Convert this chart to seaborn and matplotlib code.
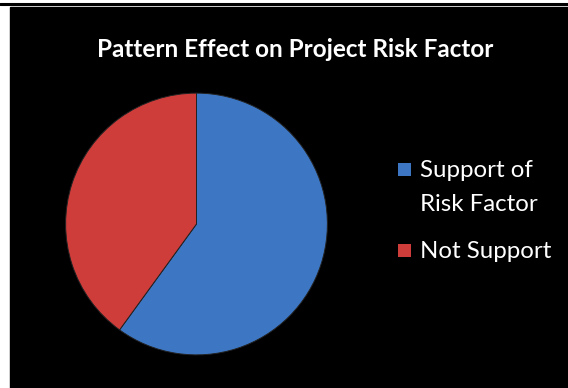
import matplotlib
matplotlib.use("Agg")
import matplotlib.pyplot as plt
from matplotlib.patches import Rectangle
from matplotlib.lines import Line2D
import seaborn as sns

# Chart data
categories = ["Support of\nRisk Factor", "Not Support"]
shares = [60, 40]
colors = ["#3d77c4", "#cf3d3b"]
title = "Pattern Effect on Project Risk Factor"

sns.set_style("dark")
plt.rcParams["font.family"] = ["Lato", "DejaVu Sans"]

W, H = 568, 388
fig = plt.figure(figsize=(W / 100, H / 100), dpi=100, facecolor="white")

def fx(px):
    return px / W

def fy(py):
    return 1 - py / H

# Thin rule along the top edge and the black chart panel
fig.add_artist(Line2D([0, 1], [fy(4), fy(4)], color="black", lw=2.2,
                      transform=fig.transFigure))
fig.add_artist(Rectangle((fx(10), 0), 1 - fx(10), fy(7), color="black",
                         transform=fig.transFigure, zorder=0))

# Pie
ax = fig.add_axes([fx(63), fy(358), fx(330) - fx(63), fy(90) - fy(358)])
ax.set_facecolor("none")
wedges, _ = ax.pie(shares, colors=colors, startangle=90, counterclock=False,
                   radius=1.0,
                   wedgeprops=dict(edgecolor="#222222", linewidth=0.7))
ax.set_xlim(-1.02, 1.02)
ax.set_ylim(-1.02, 1.02)
ax.set_aspect("equal")
ax.axis("off")

# Title
fig.text(fx(295), fy(57), title, ha="center", va="baseline", color="white",
         fontsize=17.5, fontweight="bold")

# Legend
label_x = 420
baselines = [177, 258]
for label, col, base in zip(categories, colors, baselines):
    lines = label.split("\n")
    fig.text(fx(label_x), fy(base), lines[0], ha="left", va="baseline",
             color="white", fontsize=17.3)
    if len(lines) > 1:
        fig.text(fx(label_x), fy(base + 34), lines[1], ha="left",
                 va="baseline", color="white", fontsize=17.3)
    fig.add_artist(Rectangle((fx(398), fy(base - 1)), fx(13), 13 / H,
                             facecolor=col, edgecolor="none",
                             transform=fig.transFigure))

fig.savefig("out.png", dpi=100, facecolor="white")
